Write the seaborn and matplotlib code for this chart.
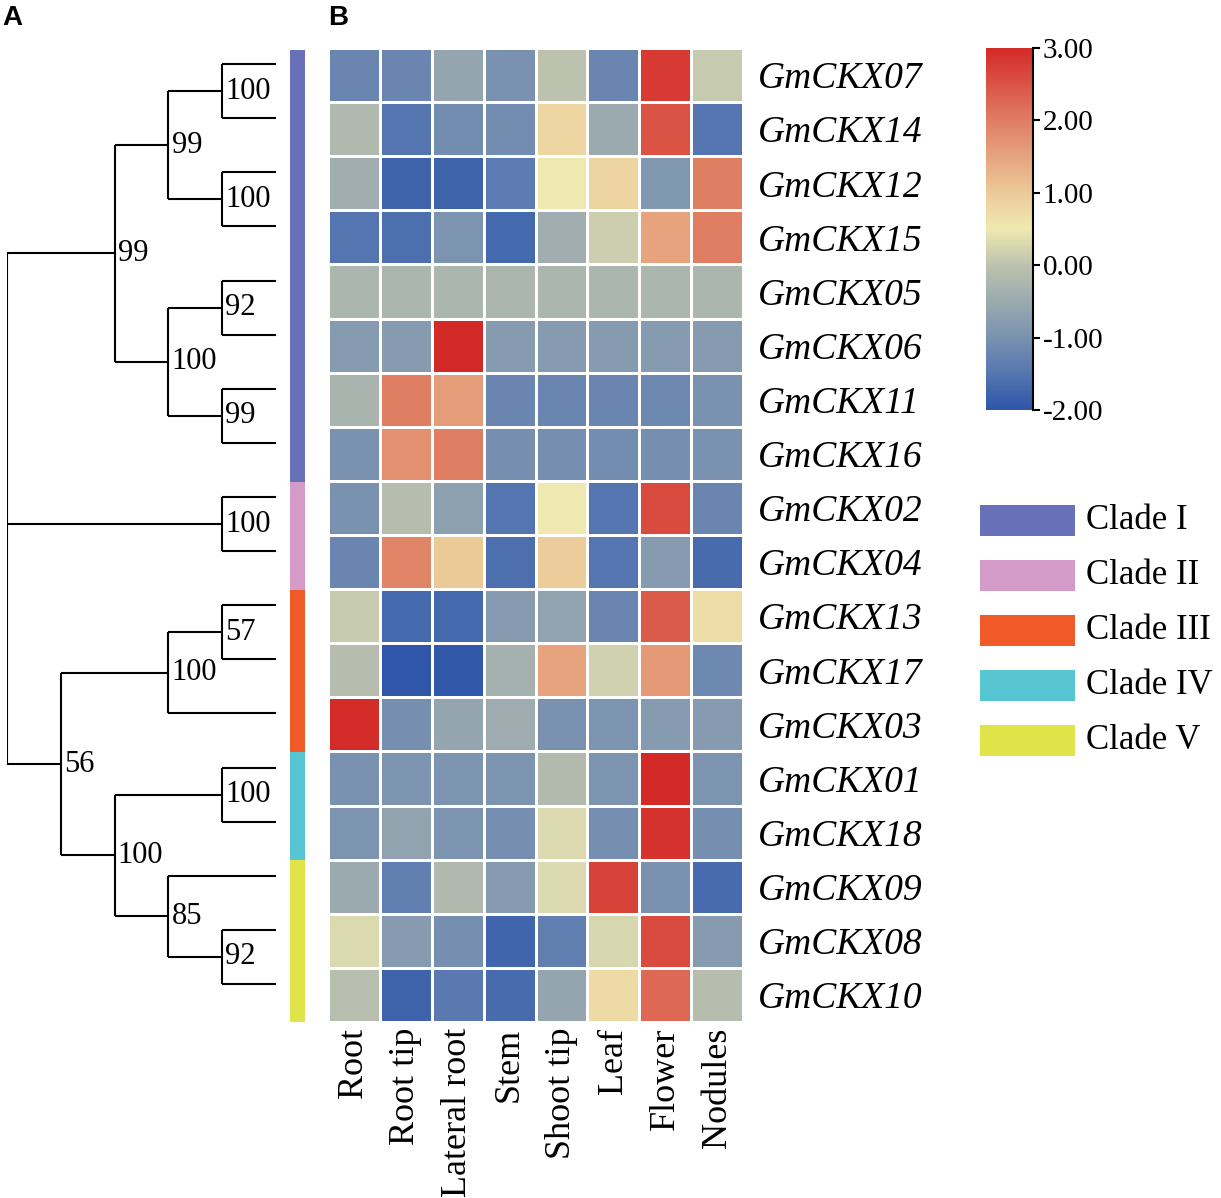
import numpy as np
import pandas as pd
import matplotlib
matplotlib.use("Agg")
import matplotlib.pyplot as plt
from matplotlib.colors import LinearSegmentedColormap
import seaborn as sns

genes = ['GmCKX07', 'GmCKX14', 'GmCKX12', 'GmCKX15', 'GmCKX05', 'GmCKX06',
         'GmCKX11', 'GmCKX16', 'GmCKX02', 'GmCKX04', 'GmCKX13', 'GmCKX17',
         'GmCKX03', 'GmCKX01', 'GmCKX18', 'GmCKX09', 'GmCKX08', 'GmCKX10']
tissues = ['Root', 'Root tip', 'Lateral root', 'Stem', 'Shoot tip', 'Leaf', 'Flower', 'Nodules']

# expression values (log scale)
values = [
    [-1.2, -1.2, -0.6, -1.0, 0.0, -1.2, 2.8, 0.1],
    [-0.2, -1.5, -1.1, -1.1, 0.8, -0.5, 2.5, -1.5],
    [-0.4, -1.8, -1.8, -1.4, 0.5, 0.85, -0.9, 2.0],
    [-1.5, -1.6, -0.95, -1.7, -0.4, 0.15, 1.5, 2.0],
    [-0.25, -0.25, -0.25, -0.25, -0.25, -0.25, -0.25, -0.25],
    [-0.8, -0.8, 3.0, -0.8, -0.8, -0.8, -0.8, -0.8],
    [-0.3, 2.0, 1.6, -1.2, -1.2, -1.2, -1.15, -1.0],
    [-1.0, 1.75, 2.0, -1.05, -1.05, -1.1, -1.05, -1.0],
    [-1.0, -0.1, -0.7, -1.5, 0.5, -1.5, 2.6, -1.2],
    [-1.2, 1.9, 1.0, -1.6, 0.95, -1.5, -0.8, -1.65],
    [0.1, -1.7, -1.7, -0.8, -0.65, -1.2, 2.4, 0.7],
    [-0.1, -2.0, -1.95, -0.35, 1.5, 0.2, 1.65, -1.15],
    [2.95, -1.05, -0.6, -0.45, -1.0, -0.95, -0.8, -0.8],
    [-1.0, -0.95, -0.95, -0.95, -0.15, -0.95, 3.0, -0.95],
    [-0.95, -0.65, -0.95, -1.05, 0.3, -1.05, 2.9, -1.05],
    [-0.5, -1.35, -0.2, -0.8, 0.3, 2.7, -1.0, -1.65],
    [0.3, -0.8, -1.05, -1.75, -1.35, 0.25, 2.6, -0.8],
    [-0.05, -1.8, -1.45, -1.65, -0.6, 0.75, 2.25, -0.1],
]

clades = ['Clade I', 'Clade II', 'Clade III', 'Clade IV', 'Clade V']
clade_sizes = [8, 2, 3, 2, 3]
clade_colors = ['#6870b8', '#d59bc8', '#f05a28', '#58c6d2', '#e0e448']

# tree: (bootstrap, depth, children); ints are leaf rows
tree = ("", 0, [
    ("99", 2, [
        ("99", 3, [("100", 4, [0, 1]), ("100", 4, [2, 3])]),
        ("100", 3, [("92", 4, [4, 5]), ("99", 4, [6, 7])]),
    ]),
    ("100", 4, [8, 9]),
    ("56", 1, [
        ("100", 3, [("57", 4, [10, 11]), 12]),
        ("100", 2, [("100", 4, [13, 14]),
                    ("85", 3, [15, ("92", 4, [16, 17])])]),
    ]),
])
leaf_depth = 5

df = pd.DataFrame(values, index=genes, columns=tissues)

cmap = LinearSegmentedColormap.from_list('expr', [
    (0.0, '#2f56a8'), (0.1, '#5576b0'), (0.2, '#7a92b0'), (0.4, '#bcc2ae'),
    (0.5, '#efe9b0'), (0.6, '#ecca98'), (0.8, '#e07e64'), (1.0, '#d42a27')])

serif = 'Liberation Serif'
W, H = 1221, 1198
fig = plt.figure(figsize=(W / 100, H / 100), dpi=100)

def px(x0, y0, x1, y1):
    return [x0 / W, 1 - y1 / H, (x1 - x0) / W, (y1 - y0) / H]

# heatmap
ax = fig.add_axes(px(328, 48, 743, 1022))
cax = fig.add_axes(px(986, 48, 1033, 410))
sns.heatmap(df, ax=ax, cmap=cmap, vmin=-2, vmax=3, linewidths=2, linecolor='white',
            cbar_ax=cax, cbar_kws={'ticks': [-2, -1, 0, 1, 2, 3]})
ax.yaxis.tick_right()
ax.tick_params(axis='both', length=0)
ax.tick_params(axis='y', pad=11)
ax.tick_params(axis='x', pad=4)
ax.set_yticklabels(genes, rotation=0, fontsize=27, family=serif, style='italic')
ax.set_xticklabels(tissues, rotation=90, fontsize=26, family=serif)
ax.set_xlabel('')
ax.set_ylabel('')

cbar = ax.collections[0].colorbar
cbar.outline.set_visible(False)
cax.set_yticklabels([f'{t:.2f}' for t in [-2, -1, 0, 1, 2, 3]])
for lab in cax.get_yticklabels():
    lab.set_fontfamily(serif)
    lab.set_fontsize(21)
cax.tick_params(axis='y', length=5, width=1.5, pad=2)
cax.plot([1, 1], [0, 1], transform=cax.transAxes, color='black', lw=1.5, clip_on=False)

# clade bar
bax = fig.add_axes(px(290, 50, 305, 1022))
starts = np.concatenate([[0], np.cumsum(clade_sizes)[:-1]])
bax.bar(0, clade_sizes, bottom=starts, width=1, color=clade_colors)
bax.set_xlim(-0.5, 0.5)
bax.set_ylim(sum(clade_sizes), 0)
bax.axis('off')

# dendrogram
tax = fig.add_axes(px(7, 37, 276, 1011))
tax.set_xlim(0, leaf_depth)
tax.set_ylim(len(genes), 0)
tax.axis('off')

def draw(node):
    if isinstance(node, int):
        return node + 0.5, leaf_depth
    label, depth, children = node
    pos = [draw(c) for c in children]
    ys = [p[0] for p in pos]
    tax.plot([depth, depth], [min(ys), max(ys)], color='black', lw=1.5,
             solid_capstyle='butt')
    for y, x in pos:
        tax.plot([depth, x], [y, y], color='black', lw=1.5, solid_capstyle='butt')
    y = (min(ys) + max(ys)) / 2
    if label:
        tax.text(depth + 0.06, y, label, ha='left', va='center', fontsize=22,
                 family=serif)
    return y, depth

draw(tree)

# legend
lax = fig.add_axes(px(980, 493, 1221, 768))
lax.barh(range(len(clades)), 1, left=0, height=0.58, color=clade_colors)
lax.set_xlim(0, 241 / 95)
lax.set_ylim(len(clades) - 0.5, -0.5)
lax.axis('off')
for i, name in enumerate(clades):
    lax.text(1.12, i, name, ha='left', va='center', fontsize=25, family=serif)

fig.text(2 / W, 1 - 18 / H, 'A', fontsize=20, fontweight='bold',
         family='Liberation Sans', ha='left', va='center')
fig.text(328 / W, 1 - 18 / H, 'B', fontsize=20, fontweight='bold',
         family='Liberation Sans', ha='left', va='center')

fig.savefig('out.png', dpi=100)
